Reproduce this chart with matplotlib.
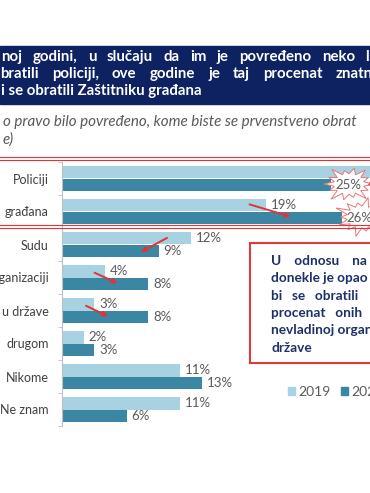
import numpy as np
import matplotlib
matplotlib.use("Agg")
import matplotlib.pyplot as plt
from matplotlib.patches import Rectangle, Polygon, FancyArrowPatch

W, H = 370, 493

categories = ["Policiji", "građana", "Sudu", "organizaciji", "u države",
              "drugom", "Nikome", "Ne znam"]
v2019 = [35, 19, 12, 4, 3, 2, 11, 11]
v2020 = [25, 26, 9, 8, 8, 3, 13, 6]
years = ["2019", "2020"]

title_lines = ["noj godini, u slučaju da im je povređeno neko l",
               "bratili policiji, ove godine je taj procenat znatn",
               "i se obratili Zaštitniku građana"]
subtitle_lines = ["o pravo bilo povređeno, kome biste se prvenstveno obrat",
                  "e)"]
note_lines = ["U    odnosu    na", "donekle je opao", "bi   se   obratili",
              "procenat   onih", "nevladinoj organ", "države"]

# red arrows (data coords: x in %, y in category index)
arrows = [(29.8, -0.03, 28.2, 0.25),
          (17.2, 0.76, 21.5, 1.18),
          (10.0, 1.76, 7.1, 2.27),
          (2.8, 2.82, 5.4, 3.21),
          (2.0, 3.82, 4.5, 4.21)]

C19 = "#a8d1e1"
C20 = "#3a86a3"
RED = "#e03535"
NAVY = "#0e2160"
GREY = "#595959"

plt.rcParams["font.family"] = ["Lato", "DejaVu Sans"]

fig = plt.figure(figsize=(W / 100, H / 100), dpi=100)
renderer = fig.canvas.get_renderer()


def fx(x):
    return x / W


def fy(y):
    return 1 - y / H


def justify(line, x0, x1, ypx, **kw):
    # spread words so the line runs from x0 to x1 (pixels)
    words = line.split()
    objs = [fig.text(0, fy(ypx), w, va="center", ha="left", **kw) for w in words]
    widths = [o.get_window_extent(renderer).width for o in objs]
    gap = (x1 - x0 - sum(widths)) / max(len(words) - 1, 1)
    x = x0
    for o, wd in zip(objs, widths):
        o.set_x(fx(x))
        x += wd + gap


# title band
fig.patches.append(Rectangle((0, fy(104)), 1, (104 - 46) / H,
                             transform=fig.transFigure, color=NAVY, zorder=0))
title_kw = dict(color="white", fontsize=10.8, fontweight="bold")
justify(title_lines[0], 1, 369, 57, **title_kw)
justify(title_lines[1], 0, 373, 74, **title_kw)
fig.text(fx(1), fy(91), title_lines[2], va="center", ha="left", **title_kw)

for i, line in enumerate(subtitle_lines):
    fig.text(fx(3), fy(122 + 18 * i), line, color=GREY, fontsize=10.9,
             style="italic", va="center", ha="left")

# chart
ax = fig.add_axes([fx(62), fy(426), fx(370) - fx(62), (426 - 162) / H])
px_per_pct = 10.75
ax.set_xlim(0, (370 - 62) / px_per_pct)
ax.set_ylim(len(categories) - 0.5, -0.5)

y = np.arange(len(categories))
h = 0.38
ax.barh(y - h / 2, v2019, height=h, color=C19, zorder=2)
ax.barh(y + h / 2, v2020, height=h, color=C20, zorder=2)

xmax = ax.get_xlim()[1]
for vals, off in ((v2019, -h / 2), (v2020, h / 2)):
    for yi, v in zip(y, vals):
        if v > xmax:
            continue
        ax.annotate(f"{v}%", (v, yi + off), xytext=(3.6, 0),
                    textcoords="offset points", va="center", ha="left",
                    fontsize=9.5, color=GREY, zorder=5, annotation_clip=False)

for s in ("top", "right", "bottom"):
    ax.spines[s].set_visible(False)
ax.spines["left"].set_color("#bfbfbf")
ax.set_xticks([])
ax.set_yticks(y)
ax.set_yticklabels(categories, fontsize=9, color="#404040")
ax.set_yticks(np.arange(-0.5, len(categories), 1), minor=True)
ax.tick_params(axis="y", which="major", length=0, pad=9.5)
ax.tick_params(axis="y", which="minor", length=3, color="#bfbfbf", direction="out")

for x0, y0, x1, y1 in arrows:
    ax.add_patch(FancyArrowPatch((x0, y0), (x1, y1), arrowstyle="-|>",
                                 mutation_scale=7, color=RED, lw=1.4,
                                 zorder=4, clip_on=False))


def burst(cx, cy, rx, ry, radii):
    n = len(radii)
    pts = []
    for k, r in enumerate(radii):
        a = np.pi * 2 * k / n
        a2 = np.pi * 2 * (k + 0.5) / n
        pts.append(((cx + rx * r * np.cos(a)) / 100, (H - cy - ry * r * np.sin(a)) / 100))
        pts.append(((cx + rx * 0.6 * np.cos(a2)) / 100, (H - cy - ry * 0.6 * np.sin(a2)) / 100))
    return Polygon(pts, closed=True, transform=fig.dpi_scale_trans,
                   fc="white", ec="#e77777", lw=0.7, zorder=3, clip_on=False)


spikes = [1.0, 0.85, 1.1, 0.8, 0.95, 1.15, 0.85, 1.0, 0.9, 1.1, 0.8, 0.95, 1.05, 0.85]
ax.add_patch(burst(349, 184, 25, 17, spikes))
ax.add_patch(burst(362, 217, 25, 18, spikes[::-1]))

# red highlight around first two rows (double line)
for top, bot in ((157, 228), (160, 225)):
    fig.patches.append(Rectangle((fx(-5), fy(bot)), fx(380) - fx(-5), (bot - top) / H,
                                 transform=fig.transFigure, fill=False,
                                 ec=RED, lw=0.8, zorder=6))

# callout box
fig.patches.append(Rectangle((fx(250), fy(363)), fx(380) - fx(250), (363 - 243) / H,
                             transform=fig.transFigure, fc="white",
                             ec="#d83c3c", lw=1.5, zorder=6))
for i, line in enumerate(note_lines):
    fig.text(fx(271), fy(261 + 17.3 * i), line, color="#1f2f6b", fontsize=9.8,
             fontweight="bold", va="center", ha="left", zorder=7)

# legend
for i, (yr, c) in enumerate(zip(years, (C19, C20))):
    x0 = 288 + 53 * i
    fig.patches.append(Rectangle((fx(x0), fy(395)), 7 / W, 8 / H,
                                 transform=fig.transFigure, color=c, zorder=6))
    fig.text(fx(x0 + 10), fy(392), yr, color=GREY, fontsize=10,
             va="center", ha="left")

fig.savefig("out.png", dpi=100, facecolor="white")
